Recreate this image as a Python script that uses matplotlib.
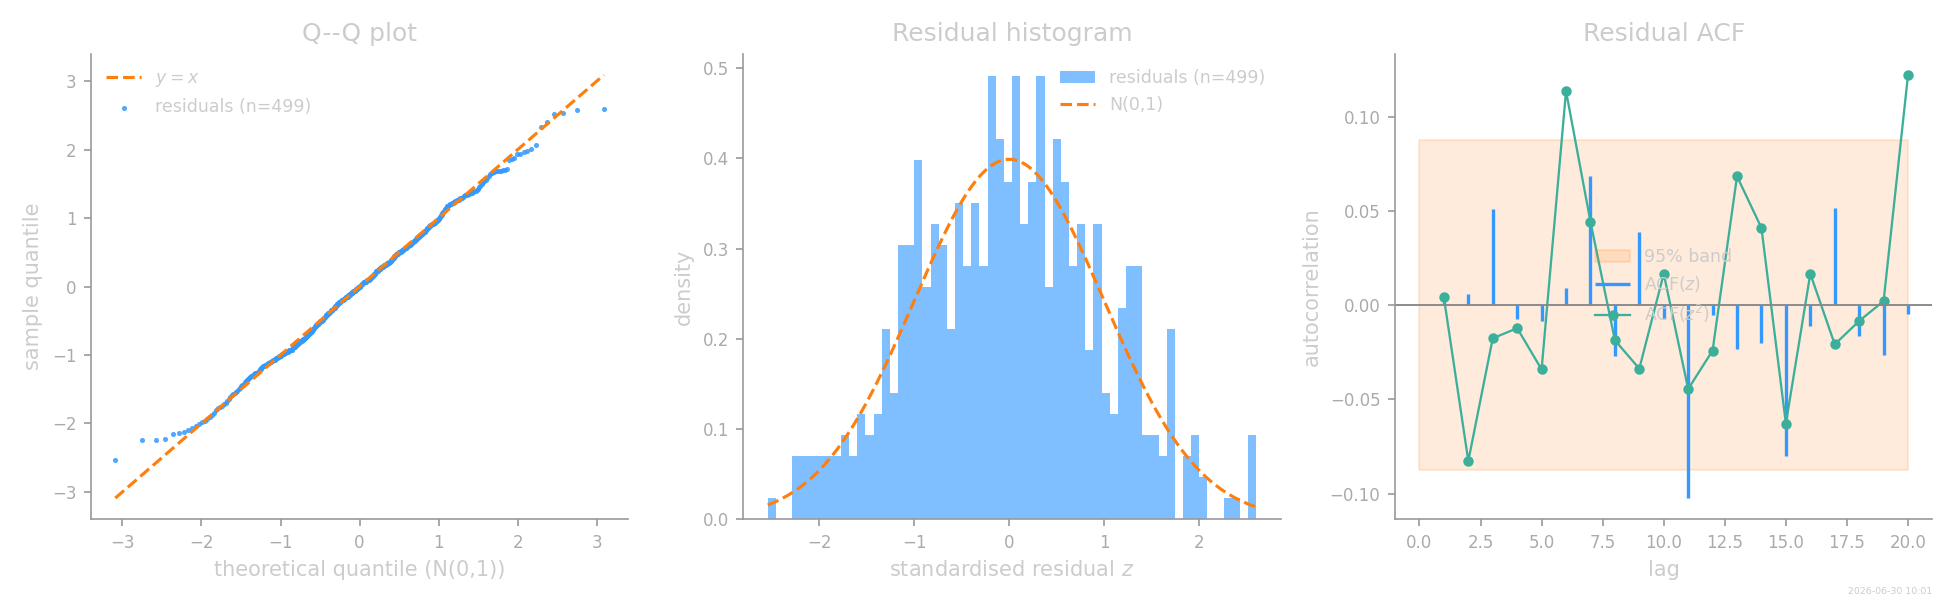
import statistics
import numpy as np
import matplotlib
matplotlib.use("Agg")
import matplotlib.pyplot as plt

residuals = [
    -2.54,
    -2.24, -2.24, -2.22,
    -2.16, -2.14, -2.12,
    -2.09, -2.07, -2.04,
    -2.01, -1.98, -1.96,
    -1.93, -1.90, -1.87,
    -1.84, -1.81, -1.78,
    -1.76, -1.74, -1.72, -1.70,
    -1.67, -1.64, -1.61,
    -1.59, -1.57, -1.56, -1.54, -1.52,
    -1.50, -1.48, -1.46, -1.44,
    -1.42, -1.40, -1.38, -1.37, -1.35,
    -1.33, -1.32, -1.31, -1.30, -1.29, -1.28, -1.27, -1.26, -1.26,
    -1.25, -1.23, -1.21, -1.20, -1.19, -1.18,
    -1.16, -1.16, -1.15, -1.14, -1.14, -1.13, -1.12, -1.12, -1.11, -1.10, -1.10, -1.09, -1.09,
    -1.08, -1.07, -1.07, -1.06, -1.05, -1.05, -1.04, -1.03, -1.03, -1.02, -1.01, -1.01, -1.00,
    -0.99, -0.99, -0.98, -0.98, -0.97, -0.97, -0.96, -0.96, -0.95, -0.95, -0.94, -0.94, -0.93, -0.93, -0.92, -0.92, -0.92,
    -0.91, -0.90, -0.89, -0.89, -0.88, -0.87, -0.86, -0.85, -0.85, -0.84, -0.83,
    -0.82, -0.82, -0.81, -0.81, -0.80, -0.80, -0.79, -0.78, -0.78, -0.77, -0.77, -0.76, -0.75, -0.75,
    -0.73, -0.73, -0.72, -0.72, -0.71, -0.70, -0.70, -0.69, -0.68, -0.68, -0.67, -0.67, -0.66,
    -0.65, -0.64, -0.63, -0.62, -0.61, -0.60, -0.59, -0.58, -0.58,
    -0.56, -0.56, -0.55, -0.55, -0.54, -0.54, -0.53, -0.52, -0.52, -0.51, -0.51, -0.50, -0.50, -0.49, -0.49,
    -0.48, -0.47, -0.46, -0.46, -0.45, -0.44, -0.43, -0.42, -0.42, -0.41, -0.40, -0.40,
    -0.39, -0.39, -0.38, -0.38, -0.37, -0.37, -0.36, -0.35, -0.35, -0.34, -0.34, -0.33, -0.33, -0.32, -0.32,
    -0.31, -0.30, -0.29, -0.29, -0.28, -0.27, -0.26, -0.26, -0.25, -0.24, -0.24, -0.23,
    -0.22, -0.22, -0.22, -0.21, -0.21, -0.20, -0.20, -0.20, -0.19, -0.19, -0.18, -0.18, -0.18,
    -0.17, -0.17, -0.16, -0.16, -0.16, -0.15, -0.15, -0.15,
    -0.14, -0.13, -0.13, -0.12, -0.12, -0.11, -0.11, -0.10, -0.10, -0.09, -0.09, -0.08, -0.08,
    -0.07, -0.07, -0.06, -0.06, -0.06,
    -0.05, -0.05, -0.04, -0.04, -0.03, -0.03, -0.02, -0.02, -0.01, -0.01, 0.00, 0.00, 0.01, 0.01, 0.02, 0.02,
    0.04, 0.04, 0.04, 0.05, 0.05, 0.06, 0.06, 0.06, 0.07, 0.07, 0.07, 0.08, 0.08,
    0.09, 0.09, 0.09, 0.10, 0.10, 0.10, 0.11, 0.11,
    0.12, 0.13, 0.13, 0.14, 0.14, 0.15, 0.15, 0.16, 0.17, 0.17, 0.18, 0.18, 0.19, 0.20,
    0.21, 0.21, 0.22, 0.22, 0.23, 0.23, 0.24, 0.24, 0.25, 0.25, 0.26, 0.26, 0.27, 0.27, 0.28, 0.28,
    0.29, 0.29, 0.30, 0.30, 0.30, 0.31, 0.31, 0.32, 0.32, 0.32, 0.33, 0.33,
    0.34, 0.34, 0.34, 0.35, 0.35, 0.36, 0.36, 0.36, 0.37,
    0.38, 0.39, 0.39, 0.40, 0.41, 0.42, 0.42, 0.43, 0.44, 0.45, 0.45,
    0.46, 0.47, 0.47, 0.48, 0.48, 0.49, 0.49, 0.50, 0.50, 0.51, 0.51, 0.51, 0.52, 0.52, 0.53, 0.53, 0.54, 0.54,
    0.55, 0.55, 0.56, 0.56, 0.57, 0.57, 0.58, 0.58, 0.59, 0.59, 0.60, 0.60, 0.61, 0.61, 0.62, 0.62,
    0.63, 0.64, 0.65, 0.65, 0.66, 0.67, 0.67, 0.68, 0.69, 0.69, 0.70, 0.71,
    0.72, 0.73, 0.73, 0.74, 0.74, 0.75, 0.75, 0.76, 0.77, 0.77, 0.78, 0.78, 0.79, 0.80,
    0.81, 0.82, 0.83, 0.84, 0.85, 0.86, 0.87, 0.88,
    0.89, 0.90, 0.90, 0.91, 0.91, 0.92, 0.92, 0.93, 0.93, 0.94, 0.95, 0.95, 0.96, 0.97,
    0.98, 0.99, 1.01, 1.02, 1.04, 1.05,
    1.07, 1.09, 1.10, 1.12, 1.13,
    1.15, 1.16, 1.17, 1.18, 1.19, 1.20, 1.21, 1.21, 1.22, 1.22,
    1.23, 1.24, 1.25, 1.25, 1.26, 1.27, 1.27, 1.28, 1.29, 1.29, 1.30, 1.31,
    1.32, 1.33, 1.33, 1.34, 1.35, 1.35, 1.36, 1.37, 1.37, 1.38, 1.39, 1.40,
    1.41, 1.43, 1.45, 1.47,
    1.50, 1.52, 1.54, 1.56,
    1.58, 1.61, 1.64,
    1.66, 1.67, 1.68, 1.68, 1.69, 1.69, 1.70, 1.70, 1.71,
    1.85, 1.86, 1.87,
    1.93, 1.94, 1.96, 1.98,
    2.01, 2.07,
    2.33,
    2.40,
    2.52, 2.53, 2.58, 2.60,
]
assert len(residuals) == 499, len(residuals)

lags = list(range(1, 21))
acf_z = [0.002, 0.0057, 0.0510, -0.0071, -0.0086, 0.0092, 0.0688, -0.0269, 0.0386, -0.0071,
         -0.1024, -0.0051, -0.0231, -0.0200, -0.0802, -0.0108, 0.0516, -0.0161, -0.0263, -0.0045]
acf_z2 = [0.0041, -0.0827, -0.0176, -0.0122, -0.0341, 0.1137, 0.0443, -0.0186, -0.0337, 0.0167,
          -0.0445, -0.0241, 0.0684, 0.0410, -0.0629, 0.0167, -0.0208, -0.0084, 0.0022, 0.1222]
band = 0.0877

BLUE = "#3399ff"
ORANGE = "#ff7f0e"
GREEN = "#3caf9b"
TXT = "#cccccc"
TICK = "#aaaaaa"
SPINE = "#999999"

plt.rcParams["font.size"] = 10
plt.rcParams["axes.edgecolor"] = SPINE
plt.rcParams["xtick.color"] = SPINE
plt.rcParams["ytick.color"] = SPINE
plt.rcParams["xtick.labelcolor"] = TICK
plt.rcParams["ytick.labelcolor"] = TICK
plt.rcParams["xtick.labelsize"] = 8
plt.rcParams["ytick.labelsize"] = 8

fig = plt.figure(figsize=(13, 4), dpi=150)
w, h, b = 0.2756, 0.7757, 0.1346
axes = [fig.add_axes([x0, b, w, h]) for x0 in (0.0466, 0.3812, 0.7154)]

n = len(residuals)
z = np.sort(np.array(residuals))
nd = statistics.NormalDist()
theo = np.array([nd.inv_cdf((i - 0.5) / n) for i in range(1, n + 1)])

# Q-Q plot
ax = axes[0]
ax.plot([theo[0], theo[-1]], [theo[0], theo[-1]], "--", color=ORANGE, lw=1.5, label="$y=x$")
ax.scatter(theo, z, s=6, color=BLUE, alpha=0.85, lw=0, label=f"residuals (n={n})")
ax.set_title("Q--Q plot", color=TXT, fontsize=12)
ax.set_xlabel("theoretical quantile (N(0,1))", color=TXT)
ax.set_ylabel("sample quantile", color=TXT)
ax.legend(loc="upper left", frameon=False, labelcolor=TXT, fontsize="small", scatterpoints=1)

# histogram
ax = axes[1]
ax.hist(z, bins=60, density=True, color=BLUE, alpha=0.62, lw=0, label=f"residuals (n={n})")
xs = np.linspace(z.min(), z.max(), 300)
ax.plot(xs, [nd.pdf(v) for v in xs], "--", color=ORANGE, lw=1.5, label="N(0,1)")
ax.set_title("Residual histogram", color=TXT, fontsize=12)
ax.set_xlabel("standardised residual $z$", color=TXT)
ax.set_ylabel("density", color=TXT)
ax.legend(loc="upper right", frameon=False, labelcolor=TXT, fontsize="small")

# ACF
ax = axes[2]
ax.fill_between([0, 20], -band, band, color=ORANGE, alpha=0.15, label="95% band")
ax.vlines(lags, 0, acf_z, color=BLUE, lw=1.6, label="ACF($z$)")
ax.plot(lags, acf_z2, "-o", color=GREEN, lw=1.1, ms=4, label="ACF($z^2$)")
ax.axhline(0, color="#888888", lw=0.9)
ax.set_title("Residual ACF", color=TXT, fontsize=12)
ax.set_xlabel("lag", color=TXT)
ax.set_ylabel("autocorrelation", color=TXT)
ax.legend(loc="center", frameon=False, labelcolor=TXT, fontsize="small")

for ax in axes:
    ax.spines["top"].set_visible(False)
    ax.spines["right"].set_visible(False)

fig.text(0.991, 0.006, "2026-06-30 10:01", ha="right", va="bottom", fontsize=4.5, color="#cccccc")

fig.savefig("out.png", dpi=150)
